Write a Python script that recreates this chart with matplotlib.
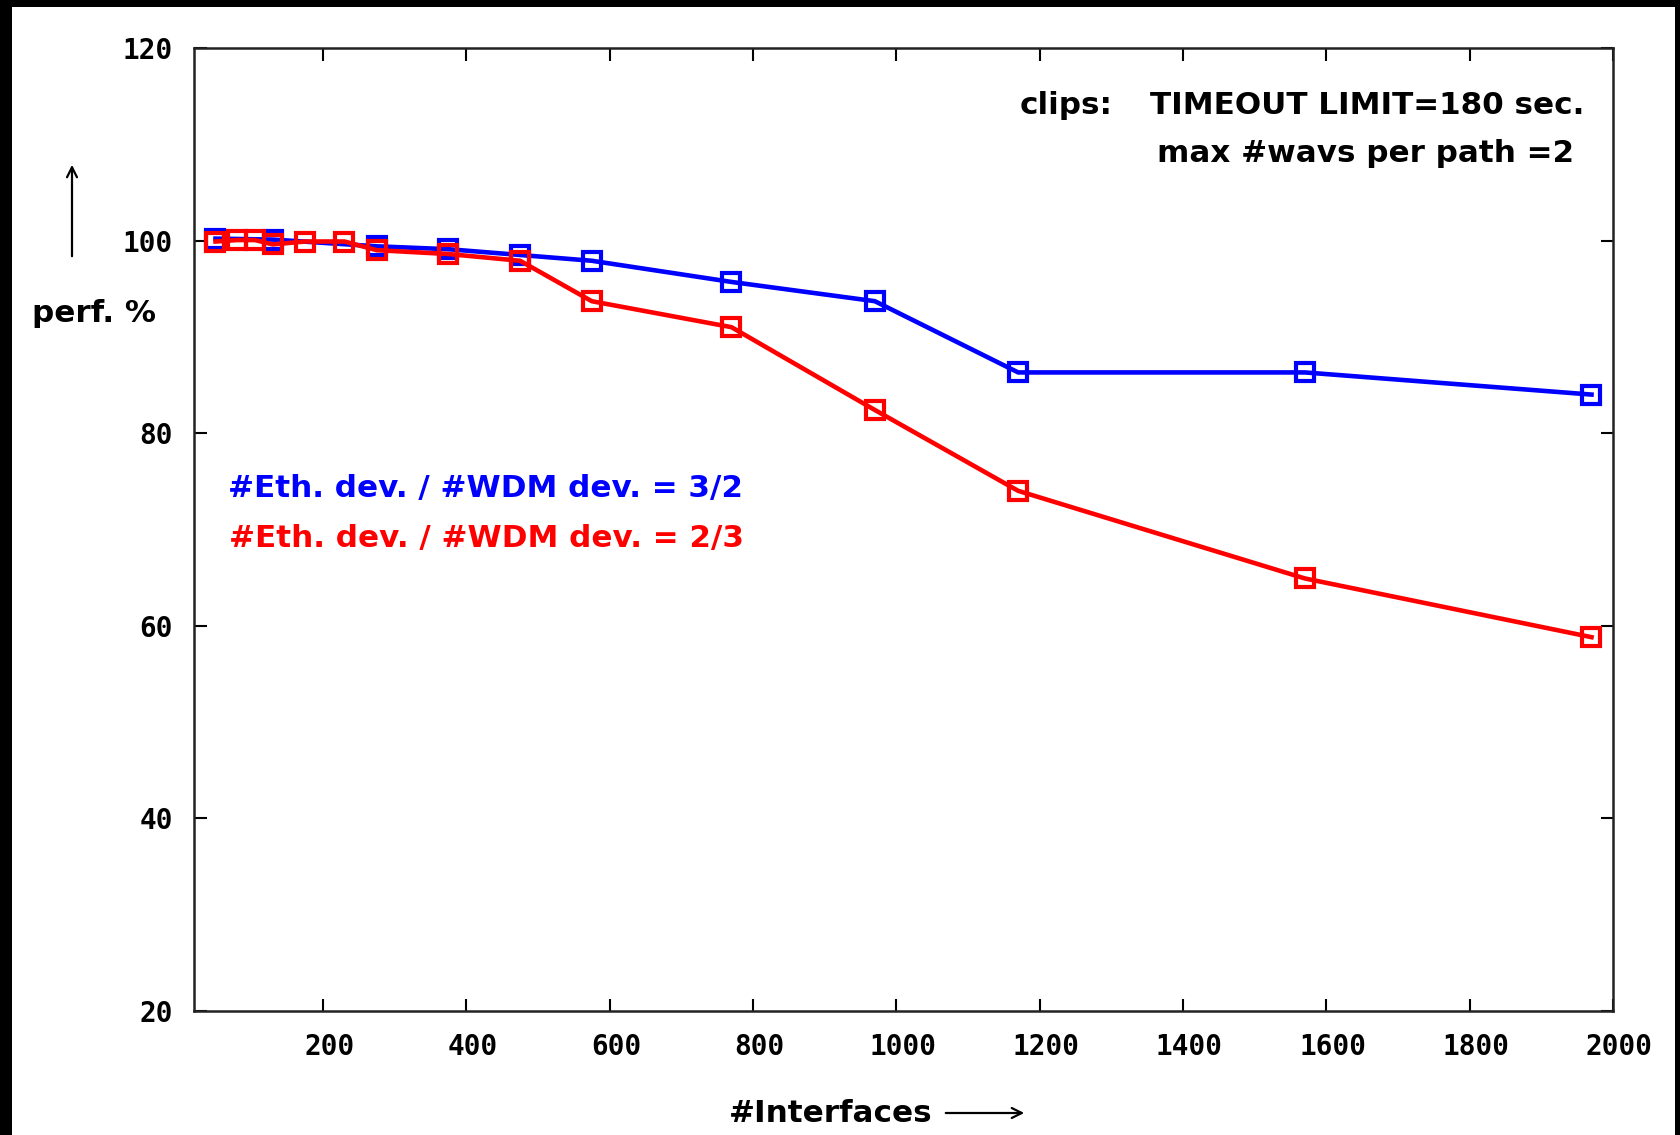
import matplotlib
matplotlib.use('Agg')
import matplotlib.pyplot as plt
import matplotlib.transforms as mtransforms
from matplotlib.patches import Rectangle, FancyArrowPatch

# Interfaces count vs. performance, two device ratios
blue_x = [50, 130, 275, 375, 475, 575, 770, 970, 1170, 1570, 1970]
blue_y = [100.2, 100.1, 99.4, 99.1, 98.5, 97.9, 95.7, 93.7, 86.3, 86.3, 84.0]
red_x = [50, 80, 105, 130, 175, 230, 275, 375, 475, 575, 770, 970, 1170, 1570, 1970]
red_y = [99.9, 100.05, 100.05, 99.6, 99.9, 99.9, 99.0, 98.6, 97.9, 93.7, 91.0, 82.4, 74.0, 64.9, 58.8]

x_ticks = [200, 400, 600, 800, 1000, 1200, 1400, 1600, 1800, 2000]
y_ticks = [20, 40, 60, 80, 100, 120]

W, H = 1681, 1135
fig = plt.figure(figsize=(W / 100, H / 100), dpi=100)
fig.patch.set_facecolor('black')
# white page with black frame on left/top/right
fig.add_artist(Rectangle((12 / W, 0), (1675 - 12) / W, 1 - 7 / H,
                         transform=fig.transFigure, facecolor='white',
                         edgecolor='none', zorder=-10))

ax = fig.add_axes([194 / W, 1 - 1010.7 / H, (1613 - 194) / W, (1010.7 - 48) / H])
ax.set_facecolor('white')

ax.plot(blue_x, blue_y, '-s', color='#0000ff', lw=3.3, ms=13, mew=3,
        mfc='none', zorder=3)
ax.plot(red_x, red_y, '-s', color='#ff0000', lw=3.3, ms=13, mew=3,
        mfc='none', zorder=4)

ax.set_xlim(20, 2000)
ax.set_ylim(20, 120)
ax.set_xticks(x_ticks)
ax.set_yticks(y_ticks)
mono = {'family': 'DejaVu Sans Mono', 'weight': 'bold', 'size': 20}
ax.set_xticklabels([str(t) for t in x_ticks], fontdict=mono)
ax.set_yticklabels([str(t) for t in y_ticks], fontdict=mono)
ax.tick_params(direction='in', length=9, width=1.5, top=True, right=True)
ax.tick_params(axis='x', pad=16)
ax.tick_params(axis='y', pad=15)
# gnuplot puts the x labels a little right of the tick
shift = mtransforms.ScaledTranslation(6.5 / 100, 0, fig.dpi_scale_trans)
for lab in ax.get_xticklabels():
    lab.set_transform(lab.get_transform() + shift)
for spine in ax.spines.values():
    spine.set_linewidth(1.8)
    spine.set_color('#222222')


def txt(x, y, s, size=22.3, color='black'):
    fig.text(x / W, 1 - y / H, s, ha='left', va='center', color=color,
             family='DejaVu Sans', weight='bold', size=size)


txt(1020, 106, 'clips:')
txt(1150, 106, 'TIMEOUT LIMIT=180 sec.')
txt(1157, 154, 'max #wavs per path =2')

txt(228, 488, '#Eth. dev. / #WDM dev. = 3/2', color='#0000ff')
txt(229, 538, '#Eth. dev. / #WDM dev. = 2/3', color='#ff0000')

txt(32, 313, 'perf. %')
txt(729, 1113, '#Interfaces')

# axis arrows
fig.add_artist(FancyArrowPatch(
    (72 / W, 1 - 259 / H), (72 / W, 1 - 162 / H), transform=fig.transFigure,
    arrowstyle='->', mutation_scale=18, lw=1.6, color='black'))
fig.add_artist(FancyArrowPatch(
    (943 / W, 1 - 1113 / H), (1027 / W, 1 - 1113 / H), transform=fig.transFigure,
    arrowstyle='->', mutation_scale=18, lw=1.6, color='black'))

fig.savefig('out.png', dpi=100, facecolor=fig.get_facecolor())
